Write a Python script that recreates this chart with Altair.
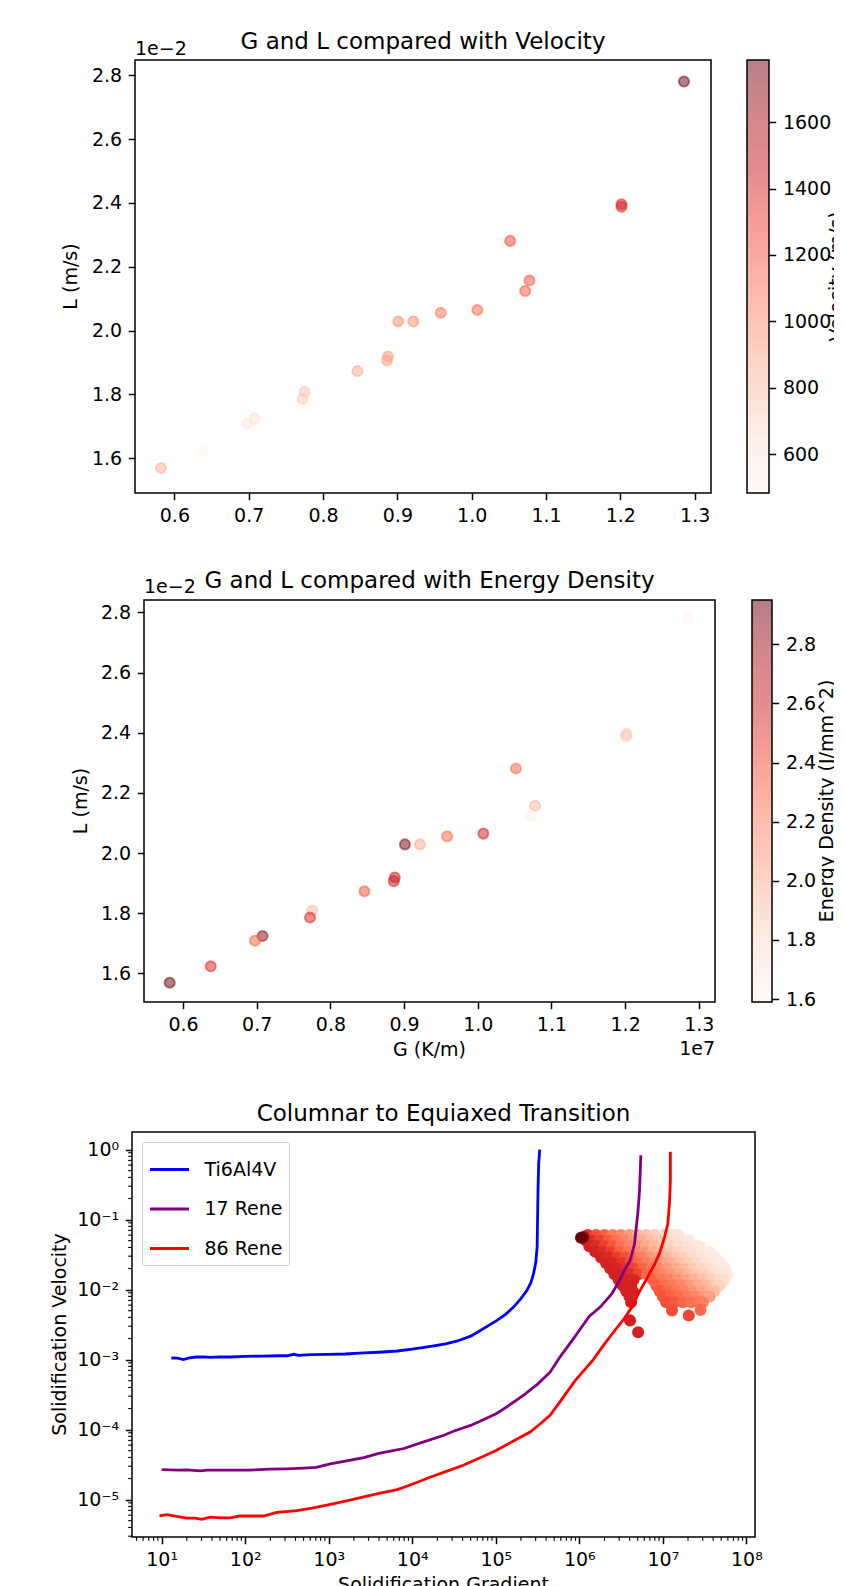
import altair as alt
import numpy as np
import pandas as pd

FONT = "DejaVu Sans"

# ---------------- Panels 1 & 2 (G in 1e7 K/m, L in 1e-2 m/s) ----------------
G_1e7 = [1.2856, 1.2016, 1.2016, 1.0518, 1.0778, 1.0720, 1.0076, 0.9584,
         0.9215, 0.9012, 0.8874, 0.8860, 0.8462, 0.7752, 0.7723, 0.7079,
         0.6977, 0.6376, 0.5819]
L_1e2 = [2.7805, 2.396, 2.388, 2.281, 2.157, 2.124, 2.0646, 2.0554,
         2.0287, 2.0287, 1.919, 1.9067, 1.8728, 1.8082, 1.7856, 1.7241,
         1.7087, 1.6236, 1.5692]
velocity = [1787, 1430, 1410, 1260, 1230, 1210, 1150, 1100, 1000, 990,
            930, 920, 880, 770, 750, 650, 620, 483, 860]
energy_density = [1.59, 1.85, 1.85, 2.30, 1.95, 1.65, 2.60, 2.30, 2.00, 2.90,
                  2.60, 2.60, 2.35, 1.95, 2.55, 2.85, 2.30, 2.55, 2.95]
G_TICKS = [0.6, 0.7, 0.8, 0.9, 1.0, 1.1, 1.2, 1.3]
L_TICKS = [1.6, 1.8, 2.0, 2.2, 2.4, 2.6, 2.8]
VEL_TICKS = [600, 800, 1000, 1200, 1400, 1600]
ED_TICKS = [1.6, 1.8, 2.0, 2.2, 2.4, 2.6, 2.8]

# ---------------- Panel 3: CET curves (log10 G, log10 V) ----------------
ALLOYS = ["Ti6Al4V", "17 Rene", "86 Rene"]
ALLOY_COLORS = ["#0000ff", "#800080", "#ff0000"]
ti_logG = [1.116, 1.19, 1.26, 1.33, 1.42, 1.50, 1.58, 1.70, 1.82, 2.00,
           2.20, 2.40, 2.50, 2.58, 2.64, 2.80, 3.00, 3.20, 3.42, 3.60,
           3.82, 4.00, 4.22, 4.40, 4.54, 4.70, 4.835, 4.93, 5.014, 5.12,
           5.213, 5.30, 5.374, 5.42, 5.453, 5.48, 5.495, 5.50, 5.505, 5.51,
           5.513, 5.52, 5.525]
ti_logV = [-2.977, -2.98, -3.00, -2.975, -2.963, -2.96, -2.968, -2.96, -2.963, -2.955,
           -2.95, -2.945, -2.945, -2.924, -2.94, -2.93, -2.925, -2.92, -2.905, -2.895,
           -2.877, -2.85, -2.81, -2.775, -2.734, -2.665, -2.57, -2.50, -2.44, -2.35,
           -2.25, -2.13, -2.01, -1.90, -1.77, -1.60, -1.39, -1.00, -0.60, -0.35,
           -0.20, -0.10, 0.0]
r17_logG = [1.00, 1.10, 1.20, 1.30, 1.46, 1.55, 1.70, 1.90, 2.05, 2.18,
            2.30, 2.50, 2.70, 2.85, 3.02, 3.20, 3.42, 3.60, 3.90, 4.10,
            4.38, 4.50, 4.70, 4.85, 5.01, 5.15, 5.33, 5.50, 5.65, 5.77,
            5.93, 6.03, 6.12, 6.25, 6.39, 6.48, 6.55, 6.61, 6.66, 6.70,
            6.72, 6.73, 6.736]
r17_logV = [-4.571, -4.575, -4.58, -4.575, -4.59, -4.58, -4.58, -4.58, -4.58, -4.571,
            -4.565, -4.56, -4.55, -4.54, -4.49, -4.45, -4.40, -4.34, -4.27, -4.19,
            -4.08, -4.02, -3.94, -3.86, -3.77, -3.66, -3.51, -3.35, -3.18, -2.96,
            -2.70, -2.53, -2.38, -2.25, -2.06, -1.87, -1.70, -1.58, -1.35, -0.91,
            -0.60, -0.30, -0.08]
r86_logG = [0.974, 1.062, 1.18, 1.30, 1.40, 1.48, 1.58, 1.70, 1.82, 1.94,
            2.10, 2.22, 2.38, 2.62, 2.80, 3.02, 3.20, 3.42, 3.60, 3.82,
            4.00, 4.22, 4.40, 4.61, 4.80, 5.01, 5.20, 5.41, 5.53, 5.65,
            5.80, 5.95, 6.16, 6.30, 6.41, 6.54, 6.63, 6.71, 6.81, 6.90,
            6.96, 7.02, 7.06, 7.08, 7.09, 7.09]
r86_logV = [-5.234, -5.215, -5.24, -5.263, -5.265, -5.281, -5.25, -5.26, -5.26, -5.234,
            -5.234, -5.234, -5.181, -5.158, -5.12, -5.067, -5.02, -4.962, -4.91, -4.857,
            -4.78, -4.677, -4.60, -4.51, -4.41, -4.296, -4.17, -4.034, -3.92, -3.796,
            -3.55, -3.30, -3.01, -2.78, -2.606, -2.41, -2.249, -2.05, -1.84, -1.64,
            -1.486, -1.25, -1.057, -0.75, -0.44, -0.03]

# simulated melt-pool cloud: rows of (log10 V, [log10 G], [colour level 0..1])
cloud_rows = [
    (-1.22, [6.10, 6.20, 6.30, 6.40, 6.50, 6.60, 6.70, 6.80, 6.90, 7.00, 7.10, 7.18],
            [0.66, 0.58, 0.52, 0.45, 0.40, 0.34, 0.28, 0.23, 0.19, 0.15, 0.12, 0.10]),
    (-1.30, [6.08, 6.15, 6.25, 6.35, 6.45, 6.55, 6.65, 6.75, 6.85, 6.95, 7.05, 7.15, 7.25, 7.31],
            [0.85, 0.68, 0.62, 0.55, 0.48, 0.42, 0.36, 0.30, 0.25, 0.20, 0.16, 0.13, 0.10, 0.08]),
    (-1.38, [6.12, 6.20, 6.30, 6.40, 6.50, 6.60, 6.70, 6.80, 6.90, 7.00, 7.10, 7.20, 7.30, 7.40, 7.44],
            [0.72, 0.68, 0.62, 0.55, 0.48, 0.42, 0.36, 0.30, 0.25, 0.20, 0.16, 0.13, 0.10, 0.08, 0.07]),
    (-1.46, [6.19, 6.28, 6.38, 6.48, 6.58, 6.68, 6.78, 6.88, 6.98, 7.08, 7.18, 7.28, 7.38, 7.48, 7.56],
            [0.72, 0.68, 0.61, 0.54, 0.47, 0.41, 0.35, 0.30, 0.25, 0.20, 0.16, 0.13, 0.10, 0.08, 0.06]),
    (-1.54, [6.26, 6.35, 6.45, 6.55, 6.65, 6.75, 6.85, 6.95, 7.05, 7.15, 7.25, 7.35, 7.45, 7.55, 7.63],
            [0.72, 0.69, 0.63, 0.56, 0.49, 0.43, 0.37, 0.32, 0.27, 0.22, 0.18, 0.14, 0.11, 0.08, 0.06]),
    (-1.62, [6.32, 6.41, 6.51, 6.61, 6.71, 6.81, 6.91, 7.01, 7.11, 7.21, 7.31, 7.41, 7.51, 7.61, 7.69],
            [0.72, 0.70, 0.65, 0.58, 0.50, 0.44, 0.38, 0.33, 0.28, 0.23, 0.19, 0.15, 0.11, 0.08, 0.06]),
    (-1.70, [6.37, 6.46, 6.56, 6.66, 6.76, 6.86, 6.96, 7.06, 7.16, 7.26, 7.36, 7.46, 7.56, 7.66, 7.74],
            [0.72, 0.71, 0.67, 0.60, 0.52, 0.45, 0.40, 0.35, 0.30, 0.25, 0.20, 0.16, 0.12, 0.09, 0.07]),
    (-1.78, [6.42, 6.51, 6.61, 6.71, 6.81, 6.91, 7.01, 7.11, 7.21, 7.31, 7.41, 7.51, 7.61, 7.71, 7.77],
            [0.72, 0.72, 0.68, 0.60, 0.50, 0.46, 0.41, 0.36, 0.31, 0.26, 0.21, 0.17, 0.13, 0.10, 0.08]),
    (-1.86, [6.47, 6.56, 6.65, 6.88, 6.98, 7.08, 7.18, 7.28, 7.38, 7.48, 7.58, 7.68, 7.74],
            [0.72, 0.72, 0.70, 0.52, 0.47, 0.43, 0.38, 0.33, 0.28, 0.23, 0.18, 0.14, 0.12]),
    (-1.94, [6.52, 6.62, 6.92, 7.02, 7.12, 7.22, 7.32, 7.42, 7.52, 7.62, 7.68],
            [0.72, 0.72, 0.53, 0.49, 0.45, 0.40, 0.35, 0.30, 0.25, 0.20, 0.17]),
    (-2.02, [6.56, 6.64, 6.96, 7.06, 7.16, 7.26, 7.36, 7.46, 7.56, 7.62],
            [0.72, 0.72, 0.55, 0.51, 0.47, 0.42, 0.37, 0.32, 0.27, 0.24]),
    (-2.10, [6.60, 7.00, 7.10, 7.20, 7.30, 7.40, 7.50, 7.56],
            [0.72, 0.56, 0.53, 0.49, 0.45, 0.41, 0.36, 0.33]),
    (-2.18, [6.62, 7.04, 7.14, 7.24, 7.34, 7.44, 7.48],
            [0.72, 0.57, 0.55, 0.51, 0.48, 0.45, 0.43]),
]
cloud_extra_logG = [7.11, 7.31, 7.45, 6.607, 6.704, 6.05, 6.02]
cloud_extra_logV = [-2.30, -2.37, -2.29, -2.44, -2.61, -1.25, -1.26]
cloud_extra_level = [0.58, 0.60, 0.50, 0.72, 0.72, 0.92, 1.0]

# ---------------- styling helpers ----------------
REDS = ["#fff5f0", "#fee0d2", "#fcbba1", "#fc9272", "#fb6a4a", "#ef3b2c", "#cb181d", "#a50f15", "#67000d"]
REDS_HALF = ["#fffaf8", "#feefe8", "#fdddd0", "#fdc8b8", "#fdb4a4", "#f79d95", "#e58b8e", "#d2878a", "#b37f86"]
VIEW = alt.ViewBackground(stroke="black", strokeWidth=1.5)
blank = alt.Data(values=[{}])

AX = dict(title=None, grid=False, domain=False, ticks=True, tickColor="black", tickWidth=1.5,
          tickSize=6.7, labelPadding=6.7, labelFont=FONT, labelFontSize=19, labelColor="black",
          labelFlush=False, labelOverlap=False)


def reds(vmin, vmax, rng):
    dom = [float(v) for v in np.linspace(vmin, vmax, len(rng))]
    return alt.Scale(domain=dom, range=rng, interpolate="rgb")


def txt(s, x, y, size=19, angle=0, align="center", clip=False):
    return alt.Chart(blank).mark_text(text=s, font=FONT, fontSize=size, angle=angle, align=align,
                                      baseline="alphabetic", color="black", clip=clip).encode(
        x=alt.value(x), y=alt.value(y))


def anchor(x, y):
    return alt.Chart(blank).mark_square(size=1, color="white", opacity=1).encode(
        x=alt.value(x), y=alt.value(y))


def spacer():
    return alt.Chart(blank).mark_square(size=1, color="white", opacity=1).encode(
        x=alt.value(0.5), y=alt.value(0.5)).properties(width=1, height=1)


def scatter_panel(values, vmin, vmax, W, H, ydom, title, title_dy, off_dy, ylab_x, A, T, B, xlabel):
    df = pd.DataFrame({"G": G_1e7, "L": L_1e2, "c": values})
    xsc = alt.Scale(domain=[0.547, 1.322], nice=False, zero=False)
    ysc = alt.Scale(domain=ydom, nice=False, zero=False)
    pts = alt.Chart(df).mark_circle(size=104, opacity=1, fillOpacity=0.5, strokeOpacity=0.5,
                                    strokeWidth=1.9).encode(
        x=alt.X("G:Q", scale=xsc, axis=alt.Axis(values=G_TICKS, format=".1f", **AX)),
        y=alt.Y("L:Q", scale=ysc, axis=alt.Axis(values=L_TICKS, format=".1f", **AX)),
        fill=alt.Fill("c:Q", scale=reds(vmin, vmax, REDS), legend=None),
        stroke=alt.Stroke("c:Q", scale=reds(vmin, vmax, REDS), legend=None),
    )
    layers = [pts,
              txt(title, W / 2, title_dy, size=23),
              txt("1e\u22122", 0, off_dy, align="left"),
              txt("L (m/s)", ylab_x, H / 2, angle=270),
              anchor(-A + 0.5, -T + 0.5),
              anchor(-A + 0.5, B - 0.5)]
    if xlabel:
        layers += [txt("G (K/m)", W / 2, H + 53.8), txt("1e7", W, H + 53.3, align="right")]
    return alt.layer(*layers).properties(width=W, height=H, view=VIEW)


def colorbar(vmin, vmax, ticks, fmt, Wb, Wc, H, label, label_x, gap):
    n = 200
    e = np.linspace(vmin, vmax, n + 1)
    d = (vmax - vmin) / n
    cb = pd.DataFrame({"v0": e[:-1], "v1": np.minimum(e[1:] + 0.5 * d, vmax), "v": e[:-1] + 0.5 * d})
    ramp = alt.Chart(cb).mark_rect(clip=True).encode(
        x=alt.value(0), x2=alt.value(Wb),
        y=alt.Y("v0:Q", scale=alt.Scale(domain=[vmin, vmax], nice=False, zero=False),
                axis=alt.Axis(orient="right", offset=-(Wc - Wb), values=ticks, format=fmt, **AX)),
        y2=alt.Y2("v1:Q"),
        fill=alt.Fill("v:Q", scale=reds(vmin, vmax, REDS_HALF), legend=None),
    )
    outline = alt.Chart(blank).mark_rect(fill="transparent", stroke="black", strokeWidth=1.5).encode(
        x=alt.value(0), x2=alt.value(Wb), y=alt.value(0), y2=alt.value(H))
    return alt.layer(ramp, outline, txt(label, label_x, H / 2, angle=270, clip=True),
                     anchor(-gap + 0.5, H / 2)).properties(width=Wc, height=H)


# ---------------- Panel 1 & 2 ----------------
p1 = scatter_panel(velocity, 483, 1787, 576, 433, [1.491, 2.848],
                   "G and L compared with Velocity", -11.4, -5.4, -58.2, 123, 51, 487, False)
cb1 = colorbar(483, 1787, VEL_TICKS, "d", 22, 87, 433, "Velocity (m/s)", 96.4, 34)
p2 = scatter_panel(energy_density, 1.59, 2.95, 571, 402, [1.505, 2.841],
                   "G and L compared with Energy Density", -12, -6.7, -57.1, 132, 51, 478, True)
cb2 = colorbar(1.59, 2.95, ED_TICKS, ".1f", 20, 82, 402, "Energy Density (J/mm^2)", 81, 35)

# ---------------- Panel 3 ----------------
W3, H3 = 623, 405
line_rows = []
for name, lg, lv in [(ALLOYS[0], ti_logG, ti_logV), (ALLOYS[1], r17_logG, r17_logV),
                     (ALLOYS[2], r86_logG, r86_logV)]:
    for i, (a, b) in enumerate(zip(lg, lv)):
        line_rows.append({"G": 10 ** a, "V": 10 ** b, "alloy": name, "idx": i})
lines_df = pd.DataFrame(line_rows)

cloud_pts = []
for lv, lgs, levels in cloud_rows:
    for a, s in zip(lgs, levels):
        cloud_pts.append({"G": 10 ** a, "V": 10 ** lv, "level": s})
for a, b, s in zip(cloud_extra_logG, cloud_extra_logV, cloud_extra_level):
    cloud_pts.append({"G": 10 ** a, "V": 10 ** b, "level": s})
cloud_df = pd.DataFrame(cloud_pts)

POW_EXPR = ("'10' + (round(log(datum.value)/LN10) < 0 ? '\u207b' : '') + "
            "['\u2070','\u00b9','\u00b2','\u00b3','\u2074','\u2075','\u2076','\u2077','\u2078','\u2079']"
            "[abs(round(log(datum.value)/LN10))]")
xsc3 = alt.Scale(type="log", domain=[10 ** 0.645, 10 ** 8.103], nice=False)
ysc3 = alt.Scale(type="log", domain=[10 ** -5.534, 10 ** 0.251], nice=False)
X3 = alt.X("G:Q", scale=xsc3, axis=alt.Axis(values=[10.0 ** k for k in range(1, 9)], labelExpr=POW_EXPR, **AX))
Y3 = alt.Y("V:Q", scale=ysc3, axis=alt.Axis(values=[10.0 ** k for k in range(-5, 1)], labelExpr=POW_EXPR, **AX))

minor_x = [m * 10.0 ** k for k in range(0, 8) for m in range(2, 10) if m * 10.0 ** k >= 4.5]
minor_y = [m * 10.0 ** k for k in range(-6, 0) for m in range(2, 10) if m * 10.0 ** k >= 2.95e-6]

cloud = alt.Chart(cloud_df).mark_circle(size=145, opacity=1).encode(
    x=X3, y=Y3, fill=alt.Fill("level:Q", scale=reds(0, 1, REDS), legend=None))
lines = alt.Chart(lines_df).mark_line(strokeWidth=2.8).encode(
    x=X3, y=Y3,
    color=alt.Color("alloy:N", scale=alt.Scale(domain=ALLOYS, range=ALLOY_COLORS),
                    legend=alt.Legend(title=None, orient="top-left", offset=10, padding=6.5,
                                      fillColor="rgba(255,255,255,0.8)", strokeColor="#cccccc",
                                      cornerRadius=3, symbolType="stroke", symbolSize=1521,
                                      symbolStrokeWidth=2.8, labelFont=FONT, labelFontSize=19,
                                      labelColor="black", labelOffset=14, rowPadding=8.5,
                                      labelLimit=300)),
    order=alt.Order("idx:Q"))
mx = alt.Chart(pd.DataFrame({"G": minor_x})).mark_rule(color="black", strokeWidth=1.15).encode(
    x=X3, y=alt.value(H3), y2=alt.value(H3 + 3.8))
my = alt.Chart(pd.DataFrame({"V": minor_y})).mark_rule(color="black", strokeWidth=1.15).encode(
    y=Y3, x=alt.value(0), x2=alt.value(-3.8))

p3 = alt.layer(
    cloud, lines, mx, my,
    txt("Columnar to Equiaxed Transition", W3 / 2, -11, size=23),
    txt("Solidification Velocity", -66.4, H3 / 2, angle=270),
    txt("Solidification Gradient", W3 / 2, H3 + 53.9),
    anchor(-120 + 0.5, -52 + 0.5),
).properties(width=W3, height=H3, view=VIEW)

IND = dict(fill="independent", stroke="independent", color="independent")
row1 = alt.hconcat(spacer(), p1, cb1, spacing=0).resolve_scale(**IND)
row2 = alt.hconcat(spacer(), p2, cb2, spacing=0).resolve_scale(**IND)
row3 = alt.hconcat(spacer(), p3, spacing=0).resolve_scale(**IND)

chart = alt.vconcat(row1, row2, row3, spacing=0).resolve_scale(**IND).properties(
    padding=0).configure_view(stroke="transparent")

chart.save("out.html", embed_options={"renderer": "svg", "actions": False})
